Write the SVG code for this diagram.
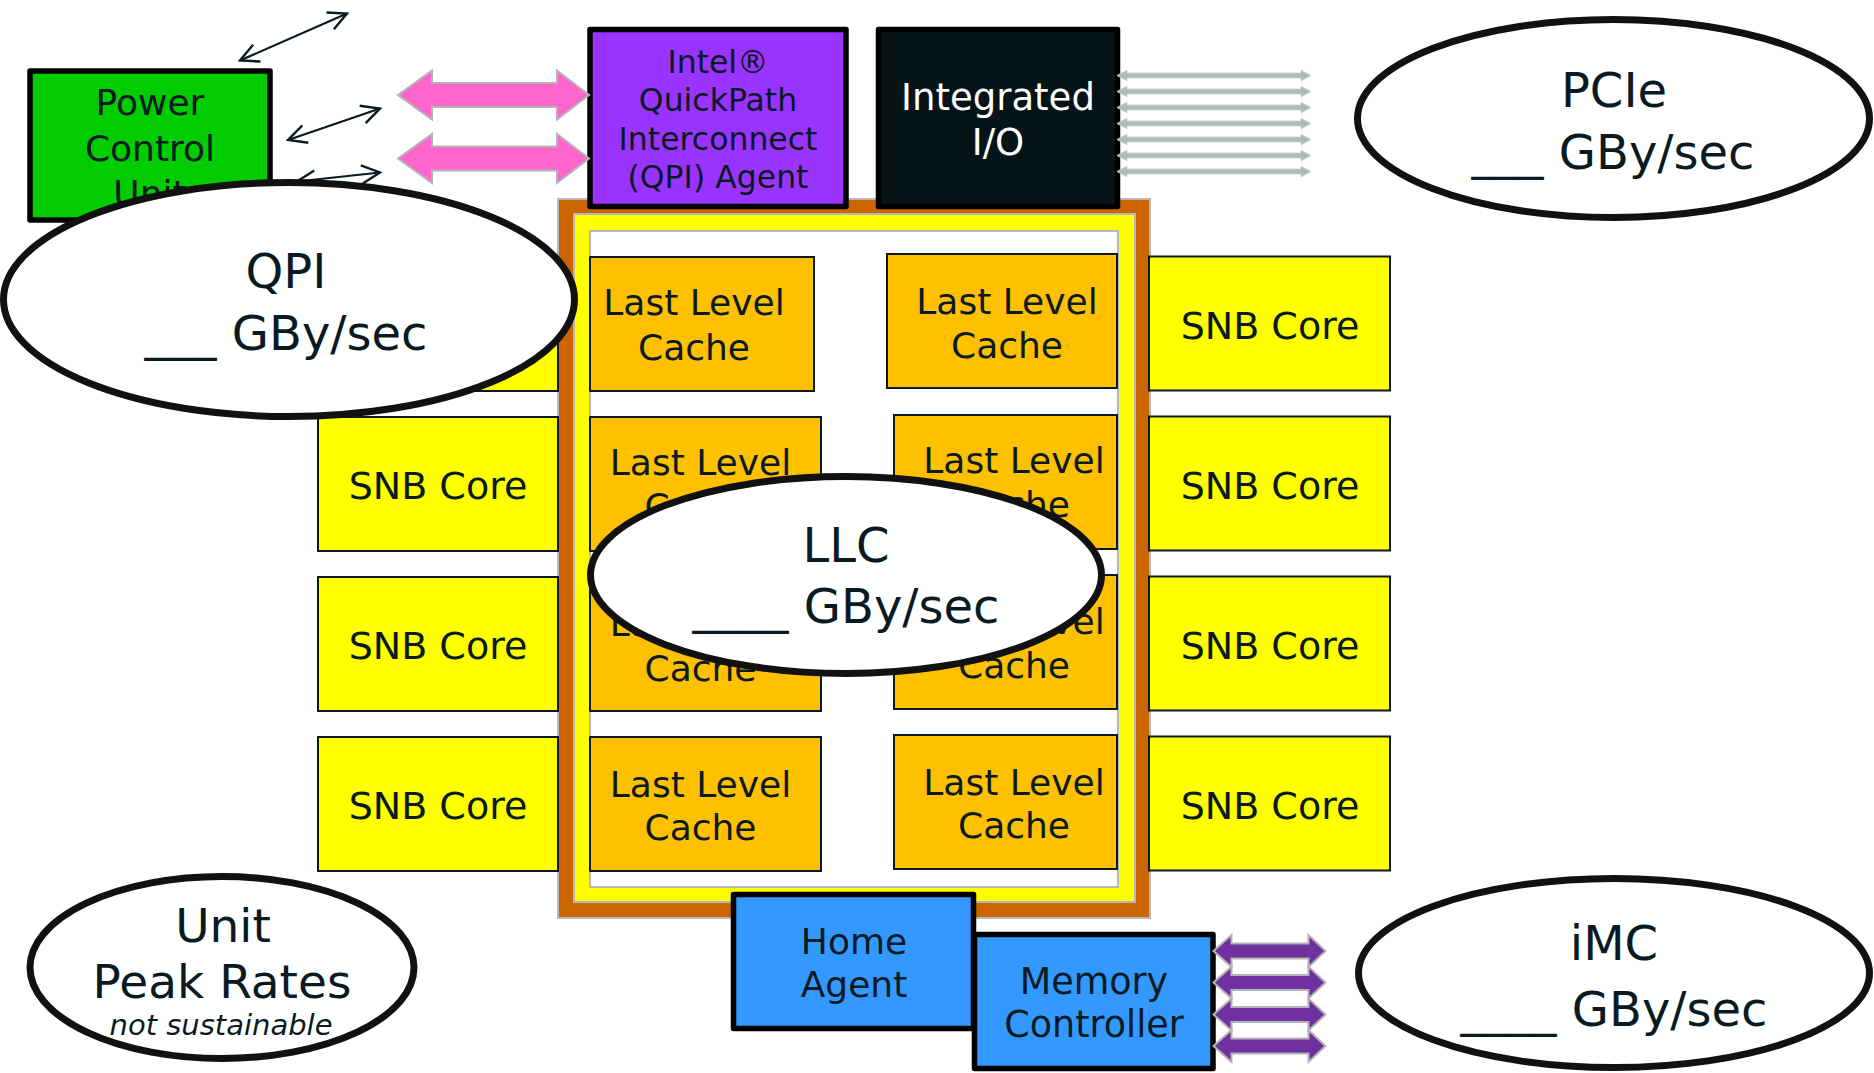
<svg xmlns="http://www.w3.org/2000/svg" width="1874" height="1073" viewBox="0 0 1874 1073">
<defs>
<style>
.t{font-family:"DejaVu Sans","Liberation Sans",sans-serif;fill:#0a1a22;text-anchor:middle}
.box{stroke:#000;stroke-width:5.5;stroke-linejoin:round}
.core{fill:#FFFF00;stroke:#0a1a22;stroke-width:2}
.llc{fill:#FFC000;stroke:#0a1a22;stroke-width:2}
.ell{fill:#fff;stroke:#111;stroke-width:7}
.frame{stroke:#B4B8B8;stroke-width:2}
.thin{stroke:#0a1a22;stroke-width:2.2;fill:none;marker-start:url(#oa);marker-end:url(#oa)}
.pink{fill:#FF66CC;stroke:#B4B4B4;stroke-width:2}
.grey{fill:#B4B8BA;stroke:#D0D4D4;stroke-width:0.8}
.purp{fill:#7030A0;stroke:#B4B4B4;stroke-width:2}
</style>
<marker id="oa" viewBox="0 0 12 12" refX="11" refY="6" markerWidth="10" markerHeight="10" orient="auto-start-reverse" markerUnits="strokeWidth">
<path d="M1,1 L11,6 L1,11" fill="none" stroke="#0a1a22" stroke-width="1.3"/>
</marker>
<path id="ga" d="M0,0 L10,-5.5 L10,-2.5 L184,-2.5 L184,-5.5 L194,0 L184,5.5 L184,2.5 L10,2.5 L10,5.5 Z"/>
<path id="pa" d="M0,0 L18,-16 L18,-7.5 L95,-7.5 L95,-16 L112,0 L95,16 L95,7.5 L18,7.5 L18,16 Z"/>
</defs>
<rect width="1874" height="1073" fill="#fff"/>

<g id="uncore-frame">
<rect class="frame" x="558" y="199" width="592" height="719" fill="#CC6600"/>
<rect class="frame" x="574" y="214" width="561" height="688" fill="#FFFF00"/>
<rect class="frame" x="590" y="231" width="528" height="656" fill="#fff"/>
</g>

<g id="llc-1"><rect class="llc" x="590" y="257" width="224" height="134"/><text class="t" font-size="36" x="694" y="315">Last Level</text><text class="t" font-size="36" x="694" y="360">Cache</text></g>
<g id="llc-2"><rect class="llc" x="887" y="254" width="230" height="134"/><text class="t" font-size="36" x="1007" y="314">Last Level</text><text class="t" font-size="36" x="1007" y="358">Cache</text></g>
<g id="llc-3"><rect class="llc" x="590" y="417" width="231" height="134"/><text class="t" font-size="36" x="700.5" y="475">Last Level</text><text class="t" font-size="36" x="700.5" y="519">Cache</text></g>
<g id="llc-4"><rect class="llc" x="894" y="415" width="223" height="134"/><text class="t" font-size="36" x="1014" y="473">Last Level</text><text class="t" font-size="36" x="1014" y="517">Cache</text></g>
<g id="llc-5"><rect class="llc" x="590" y="577" width="231" height="134"/><text class="t" font-size="36" x="700.5" y="636">Last Level</text><text class="t" font-size="36" x="700.5" y="681">Cache</text></g>
<g id="llc-6"><rect class="llc" x="894" y="575" width="223" height="134"/><text class="t" font-size="36" x="1014" y="634">Last Level</text><text class="t" font-size="36" x="1014" y="678">Cache</text></g>
<g id="llc-7"><rect class="llc" x="590" y="737" width="231" height="134"/><text class="t" font-size="36" x="700.5" y="796.5">Last Level</text><text class="t" font-size="36" x="700.5" y="840">Cache</text></g>
<g id="llc-8"><rect class="llc" x="894" y="735" width="223" height="134"/><text class="t" font-size="36" x="1014" y="795">Last Level</text><text class="t" font-size="36" x="1014" y="838">Cache</text></g>

<g id="core-l1"><rect class="core" x="318" y="257" width="240" height="134"/><text class="t" font-size="38" x="438" y="338.5">SNB Core</text></g>
<g id="core-l2"><rect class="core" x="318" y="417" width="240" height="134"/><text class="t" font-size="38" x="438" y="498.5">SNB Core</text></g>
<g id="core-l3"><rect class="core" x="318" y="577" width="240" height="134"/><text class="t" font-size="38" x="438" y="658.5">SNB Core</text></g>
<g id="core-l4"><rect class="core" x="318" y="737" width="240" height="134"/><text class="t" font-size="38" x="438" y="818.5">SNB Core</text></g>
<g id="core-r1"><rect class="core" x="1149" y="256.5" width="241" height="134"/><text class="t" font-size="38" x="1270" y="338.5">SNB Core</text></g>
<g id="core-r2"><rect class="core" x="1149" y="416.5" width="241" height="134"/><text class="t" font-size="38" x="1270" y="498.5">SNB Core</text></g>
<g id="core-r3"><rect class="core" x="1149" y="576.5" width="241" height="134"/><text class="t" font-size="38" x="1270" y="658.5">SNB Core</text></g>
<g id="core-r4"><rect class="core" x="1149" y="736.5" width="241" height="134"/><text class="t" font-size="38" x="1270" y="818.5">SNB Core</text></g>

<g id="pcu"><rect class="box" x="30" y="71" width="240" height="149" fill="#00CC00"/>
<text class="t" font-size="36" x="150" y="115">Power</text><text class="t" font-size="36" x="150" y="160.5">Control</text><text class="t" font-size="36" x="150" y="205.5">Unit</text></g>

<g id="qpi-agent"><rect class="box" x="590" y="29.5" width="256" height="177" fill="#9933FF"/>
<text class="t" font-size="31.5" x="718" y="72.5">Intel®</text><text class="t" font-size="31.5" x="718" y="111">QuickPath</text><text class="t" font-size="31.5" x="718" y="149.5">Interconnect</text><text class="t" font-size="31.5" x="718" y="188">(QPI) Agent</text></g>

<g id="iio"><rect class="box" x="878.5" y="29.5" width="239" height="177" fill="#061418"/>
<text class="t" font-size="37" x="998" y="110" style="fill:#fff">Integrated</text><text class="t" font-size="37" x="998" y="155" style="fill:#fff">I/O</text></g>

<g id="home-agent"><rect class="box" x="733.5" y="894.5" width="240" height="134" fill="#3399FF"/>
<text class="t" font-size="36" x="854" y="954">Home</text><text class="t" font-size="36" x="854" y="996.5">Agent</text></g>

<g id="memory-controller"><rect class="box" x="974.5" y="934.5" width="238.5" height="134" fill="#3399FF"/>
<text class="t" font-size="36.5" x="1094" y="993.5">Memory</text><text class="t" font-size="36.5" x="1094" y="1037">Controller</text></g>

<g id="connectors">
<line class="thin" x1="240" y1="60.5" x2="347" y2="13.5"/>
<line class="thin" x1="288" y1="140" x2="380" y2="108.5"/>
<line class="thin" x1="297" y1="181.5" x2="380" y2="172.5"/>
<polygon class="pink" points="398,95 432,70.5 432,83 557,83 557,70.5 589,95 557,119.5 557,107 432,107 432,119.5"/>
<polygon class="pink" points="398,158.5 432,134 432,146.5 557,146.5 557,134 589,158.5 557,183 557,170.5 432,170.5 432,183"/>
<use href="#ga" class="grey" x="1117" y="75.5"/>
<use href="#ga" class="grey" x="1117" y="91.5"/>
<use href="#ga" class="grey" x="1117" y="107.5"/>
<use href="#ga" class="grey" x="1117" y="123.5"/>
<use href="#ga" class="grey" x="1117" y="139.5"/>
<use href="#ga" class="grey" x="1117" y="155.5"/>
<use href="#ga" class="grey" x="1117" y="171.5"/>
<use href="#pa" class="purp" x="1213.5" y="951"/>
<use href="#pa" class="purp" x="1213.5" y="982.5"/>
<use href="#pa" class="purp" x="1213.5" y="1014.5"/>
<use href="#pa" class="purp" x="1213.5" y="1046"/>
</g>

<g id="qpi-rate"><ellipse class="ell" cx="289" cy="299.5" rx="285.5" ry="117"/>
<text class="t" font-size="48" x="286" y="288">QPI</text><text class="t" font-size="48" x="286" y="350">___ GBy/sec</text></g>

<g id="pcie-rate"><ellipse class="ell" cx="1613.5" cy="118.5" rx="256" ry="99"/>
<text class="t" font-size="48" x="1614" y="106.5">PCIe</text><text class="t" font-size="48" x="1613" y="169">___ GBy/sec</text></g>

<g id="llc-rate"><ellipse class="ell" cx="846" cy="575" rx="255.5" ry="98.5"/>
<text class="t" font-size="48" x="846" y="561.5">LLC</text><text class="t" font-size="48" x="846" y="623">____ GBy/sec</text></g>

<g id="imc-rate"><ellipse class="ell" cx="1614" cy="973" rx="255.5" ry="94.5"/>
<text class="t" font-size="48" x="1614" y="960">iMC</text><text class="t" font-size="48" x="1614" y="1025.5">____ GBy/sec</text></g>

<g id="peak-rates"><ellipse class="ell" cx="222" cy="967.5" rx="192" ry="91"/>
<text class="t" font-size="47" x="223" y="941.5">Unit</text><text class="t" font-size="47" x="222" y="998">Peak Rates</text><text class="t" font-size="29" font-style="italic" x="221" y="1035">not sustainable</text></g>
</svg>
